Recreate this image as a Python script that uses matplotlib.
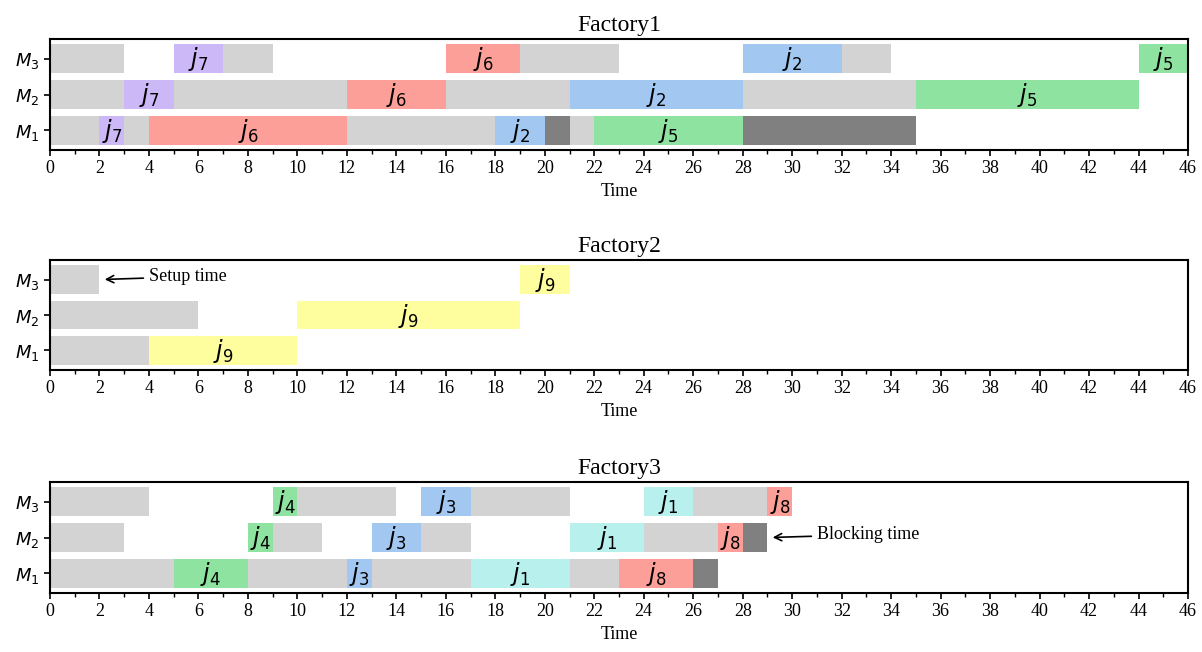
import matplotlib
matplotlib.use('Agg')
import matplotlib.pyplot as plt

# colours of each job
job_colors = {
    1: '#b8f0ee',
    2: '#a2c8f2',
    3: '#a2c8f2',
    4: '#8fe3a0',
    5: '#8fe3a0',
    6: '#fb9f98',
    7: '#cdb8f7',
    8: '#fb9f98',
    9: '#fefe9e',
}
setup_color = '#d3d3d3'
block_color = '#808080'

# (machine, start, end, kind) kind: job number, 'S' setup, 'B' blocking
factory1 = [
    (3, 0, 3, 'S'), (3, 5, 7, 7), (3, 7, 9, 'S'), (3, 16, 19, 6), (3, 19, 23, 'S'),
    (3, 28, 32, 2), (3, 32, 34, 'S'), (3, 44, 46, 5),
    (2, 0, 3, 'S'), (2, 3, 5, 7), (2, 5, 12, 'S'), (2, 12, 16, 6), (2, 16, 21, 'S'),
    (2, 21, 28, 2), (2, 28, 35, 'S'), (2, 35, 44, 5),
    (1, 0, 2, 'S'), (1, 2, 3, 7), (1, 3, 4, 'S'), (1, 4, 12, 6), (1, 12, 18, 'S'),
    (1, 18, 20, 2), (1, 20, 21, 'B'), (1, 21, 22, 'S'), (1, 22, 28, 5), (1, 28, 35, 'B'),
]
factory2 = [
    (3, 0, 2, 'S'), (3, 19, 21, 9),
    (2, 0, 6, 'S'), (2, 10, 19, 9),
    (1, 0, 4, 'S'), (1, 4, 10, 9),
]
factory3 = [
    (3, 0, 4, 'S'), (3, 9, 10, 4), (3, 10, 14, 'S'), (3, 15, 17, 3), (3, 17, 21, 'S'),
    (3, 24, 26, 1), (3, 26, 29, 'S'), (3, 29, 30, 8),
    (2, 0, 3, 'S'), (2, 8, 9, 4), (2, 9, 11, 'S'), (2, 13, 15, 3), (2, 15, 17, 'S'),
    (2, 21, 24, 1), (2, 24, 27, 'S'), (2, 27, 28, 8), (2, 28, 29, 'B'),
    (1, 0, 5, 'S'), (1, 5, 8, 4), (1, 8, 12, 'S'), (1, 12, 13, 3), (1, 13, 17, 'S'),
    (1, 17, 21, 1), (1, 21, 23, 'S'), (1, 23, 26, 8), (1, 26, 27, 'B'),
]
factories = [('Factory1', factory1), ('Factory2', factory2), ('Factory3', factory3)]
x_max = 46

serif = 'Liberation Serif'
fig = plt.figure(figsize=(12.02, 6.52), dpi=100)

# axes boxes in pixels: top, bottom
boxes = [(39, 150), (260, 370), (482, 593)]
left, right = 50, 1188
W, H = 1202, 652

axes = []
for (top, bot), (name, ops) in zip(boxes, factories):
    ax = fig.add_axes([left / W, 1 - bot / H, (right - left) / W, (bot - top) / H])
    for m, s, e, kind in ops:
        if kind == 'S':
            c = setup_color
        elif kind == 'B':
            c = block_color
        else:
            c = job_colors[kind]
        ax.barh(m, e - s, left=s, height=0.8, color=c, edgecolor='none')
        if kind not in ('S', 'B'):
            ax.text((s + e) / 2, m - 0.02, r'$j_{%d}$' % kind, ha='center', va='center',
                    fontsize=17)
    ax.set_xlim(0, x_max)
    ax.set_ylim(0.45, 3.55)
    ax.set_yticks([1, 2, 3])
    ax.set_yticklabels([r'$M_1$', r'$M_2$', r'$M_3$'], fontsize=13)
    ax.set_xticks(range(0, x_max + 1, 2))
    ax.set_xticks(range(0, x_max + 1), minor=True)
    for lab in ax.get_xticklabels():
        lab.set_fontfamily(serif)
        lab.set_fontsize(13)
    ax.tick_params(axis='both', length=4, width=1.2)
    ax.tick_params(axis='x', which='minor', length=3, width=1.0)
    for sp in ax.spines.values():
        sp.set_linewidth(1.5)
    ax.set_title(name, fontfamily=serif, fontsize=17, pad=6)
    ax.set_xlabel('Time', fontfamily=serif, fontsize=13, labelpad=4)
    axes.append(ax)

axes[1].annotate('Setup time', xy=(2.1, 3.0), xytext=(4.0, 3.08),
                 fontfamily=serif, fontsize=13, va='center',
                 arrowprops=dict(arrowstyle='->', color='black', lw=1.2))
axes[2].annotate('Blocking time', xy=(29.1, 2.0), xytext=(31.0, 2.08),
                 fontfamily=serif, fontsize=13, va='center',
                 arrowprops=dict(arrowstyle='->', color='black', lw=1.2))

fig.savefig('out.png', dpi=100)
